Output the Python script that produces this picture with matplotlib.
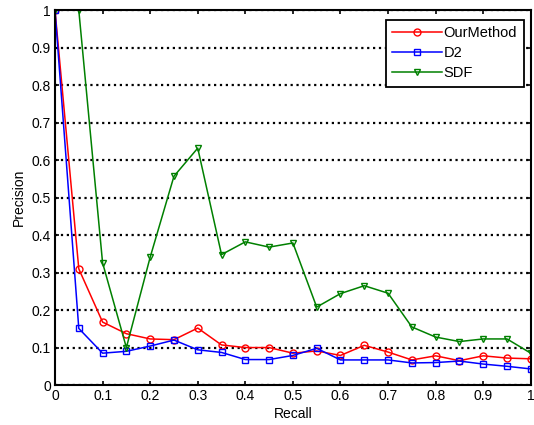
import numpy as np
import matplotlib.pyplot as plt

plt.rcParams['font.family'] = ['Liberation Sans', 'DejaVu Sans']

recall = [0, 0.05, 0.1, 0.15, 0.2, 0.25, 0.3, 0.35, 0.4, 0.45, 0.5,
          0.55, 0.6, 0.65, 0.7, 0.75, 0.8, 0.85, 0.9, 0.95, 1.0]
our_method = [1.0, 0.31, 0.168, 0.137, 0.123, 0.121, 0.152, 0.107, 0.10, 0.10, 0.085,
              0.091, 0.079, 0.106, 0.088, 0.067, 0.078, 0.065, 0.078, 0.072, 0.07]
d2 = [1.0, 0.151, 0.085, 0.09, 0.104, 0.12, 0.094, 0.087, 0.068, 0.068, 0.079,
      0.098, 0.067, 0.067, 0.067, 0.059, 0.06, 0.064, 0.056, 0.05, 0.043]
sdf = [1.0, 1.0, 0.326, 0.10, 0.341, 0.557, 0.632, 0.348, 0.382, 0.368, 0.379,
       0.208, 0.244, 0.265, 0.245, 0.155, 0.128, 0.116, 0.123, 0.123, 0.085]

fig = plt.figure(figsize=(5.34, 4.25), dpi=100)
ax = fig.add_axes([0.103, 0.094, 0.891, 0.882])

ax.plot(recall, our_method, color='red', marker='o', mfc='none', ms=5, lw=1.1, label='OurMethod')
ax.plot(recall, d2, color='blue', marker='s', mfc='none', ms=5, lw=1.1, label='D2')
ax.plot(recall, sdf, color='green', marker='v', mfc='none', ms=5, lw=1.1, label='SDF')

ax.set_xlim(0, 1)
ax.set_ylim(0, 1)
ax.set_xticks(np.arange(0, 1.01, 0.1))
ax.set_yticks(np.arange(0, 1.01, 0.1))
ax.set_xticklabels(['0', '0.1', '0.2', '0.3', '0.4', '0.5', '0.6', '0.7', '0.8', '0.9', '1'])
ax.set_yticklabels(['0', '0.1', '0.2', '0.3', '0.4', '0.5', '0.6', '0.7', '0.8', '0.9', '1'])
ax.tick_params(direction='in', top=True, right=True, labelsize=10, length=3, width=1.2, pad=3)
ax.yaxis.grid(True, color='black', linestyle=':', linewidth=1.6)
for s in ax.spines.values():
    s.set_linewidth(1.5)

ax.set_xlabel('Recall', fontsize=10, labelpad=3)
ax.set_ylabel('Precision', fontsize=10, labelpad=4)

leg = ax.legend(loc='upper right', bbox_to_anchor=(1.0, 0.994), fontsize=10.5,
                fancybox=False, framealpha=1, edgecolor='black',
                handlelength=3.4, handletextpad=0.1, borderpad=0.45, labelspacing=0.4)
leg.get_frame().set_linewidth(1.3)

fig.savefig('out.png', dpi=100)
